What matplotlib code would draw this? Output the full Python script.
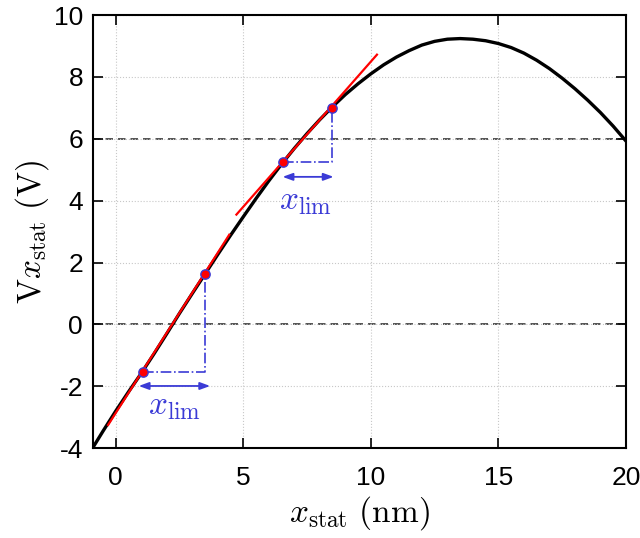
import numpy as np
import matplotlib
matplotlib.use("Agg")
import matplotlib.pyplot as plt

plt.rcParams["font.family"] = ["Liberation Sans", "DejaVu Sans"]
plt.rcParams["mathtext.fontset"] = "cm"
plt.rcParams["axes.unicode_minus"] = False

# %%
# Curve (x_stat in nm, V in volts)
x_stat = [-1.0, -0.5, 0.0, 0.5, 1.0, 1.5, 2.0, 2.5, 3.0, 3.5, 4.0, 4.5,
          5.0, 5.5, 6.0, 6.5, 7.0, 7.5, 8.0, 8.5, 9.0, 9.5, 10.0, 10.5,
          11.0, 11.5, 12.0, 12.5, 13.0, 13.5, 14.0, 14.5, 15.0, 15.5,
          16.0, 16.5, 17.0, 17.5, 18.0, 18.5, 19.0, 19.5, 20.0]
v_stat = [-4.12, -3.45, -2.80, -2.18, -1.58, -0.95, -0.30, 0.36, 1.00,
          1.63, 2.26, 2.88, 3.48, 4.07, 4.64, 5.18, 5.69, 6.17, 6.62,
          7.04, 7.43, 7.78, 8.10, 8.39, 8.64, 8.85, 9.03, 9.15, 9.22,
          9.24, 9.22, 9.17, 9.08, 8.95, 8.77, 8.54, 8.27, 7.96, 7.62,
          7.25, 6.85, 6.41, 5.93]

# tangent segments (x0, x1), (y0, y1)
tan1_x = [-0.3, 4.45]
tan1_y = [-3.25, 2.90]
tan2_x = [4.73, 10.24]
tan2_y = [3.55, 8.72]

# marked points: lower / upper pair on each tangent
pts1_x = [1.08, 3.50]
pts1_y = [-1.53, 1.63]
pts2_x = [6.57, 8.46]
pts2_y = [5.24, 7.01]

# x_lim arrows: (x start, x end, y) and label position
arrow1 = (0.9, 3.7, -1.99)
arrow2 = (6.54, 8.54, 4.77)
label1 = (2.3, -2.65)
label2 = (7.45, 3.97)

ref_levels = [0, 6]

blue = "#3b3bd6"

fig = plt.figure(figsize=(6.4, 5.38), dpi=100)
ax = fig.add_axes([0.145, 0.167, 0.833, 0.805])

ax.grid(True, color="#c8c8c8", linestyle=":", linewidth=0.8)
for lv in ref_levels:
    ax.axhline(lv, color="#333333", linestyle=(0, (4.5, 3)), linewidth=1.2, zorder=1)

ax.plot(x_stat, v_stat, color="black", linewidth=2.4, zorder=3)
ax.plot(tan1_x, tan1_y, color="red", linewidth=1.6, zorder=4)
ax.plot(tan2_x, tan2_y, color="red", linewidth=1.6, zorder=4)

for px, py in [(pts1_x, pts1_y), (pts2_x, pts2_y)]:
    # horizontal then vertical dash-dot guide
    ax.plot([px[0], px[1], px[1]], [py[0], py[0], py[1]], color=blue,
            linestyle="-.", linewidth=1.2, zorder=2)
    ax.scatter(px, py, s=45, color="red", edgecolor=blue, linewidth=1.0,
               zorder=5)

for (xa, xb, ya), (tx, ty) in [(arrow1, label1), (arrow2, label2)]:
    ax.annotate("", xy=(xb, ya), xytext=(xa, ya),
                arrowprops=dict(arrowstyle="<|-|>,head_length=0.6,head_width=0.22",
                                color=blue, linewidth=1.3,
                                shrinkA=0, shrinkB=0))
    ax.text(tx, ty, r"$x_{\rm lim}$", color=blue, fontsize=24,
            ha="center", va="center")

ax.set_xlim(-0.9, 20)
ax.set_ylim(-4, 10)
ax.set_xticks([0, 5, 10, 15, 20])
ax.set_yticks(np.arange(-4, 11, 2))
ax.tick_params(direction="in", length=7, width=1.2, top=True, right=True,
               labelsize=19)
ax.tick_params(axis="x", pad=13)
ax.tick_params(axis="y", pad=7)
for sp in ax.spines.values():
    sp.set_linewidth(1.5)

ax.set_xlabel(r"$x_{\rm stat}\ (\rm nm)$", fontsize=24, labelpad=3)
ax.set_ylabel(r"$\mathrm{V}x_{\rm stat}\ (\rm V)$", fontsize=24, labelpad=2)

fig.savefig("out.png", dpi=100)
